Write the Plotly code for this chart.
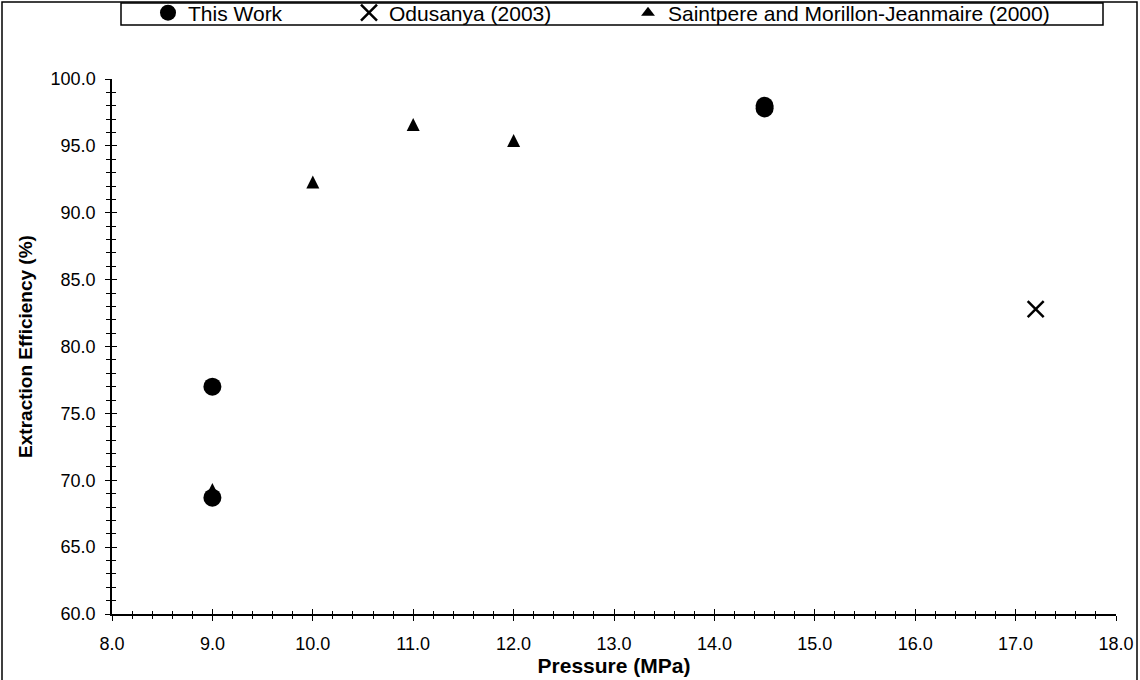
import plotly.graph_objects as go

# Extraction efficiency versus pressure
this_work_p = [9.0, 9.0, 14.5, 14.5]
this_work_eff = [77.0, 68.7, 98.0, 97.8]

odusanya_p = [17.2]
odusanya_eff = [82.8]

saintpere_p = [9.0, 10.0, 11.0, 12.0]
saintpere_eff = [69.3, 92.3, 96.6, 95.4]

x_range = [8.0, 18.0]
y_range = [60.0, 100.0]

FONT = "Liberation Sans, Arial, Helvetica, sans-serif"
W, H = 1140, 680
ML, MR, MT, MB = 112, 24, 79, 66
PW = W - ML - MR
PH = H - MT - MB


def px_to_paper_x(px):
    return (px - ML) / PW


def px_to_paper_y(py):
    return (H - MB - py) / PH


SAINTPERE = "Saintpere and Morillon-Jeanmaire (2000)"

fig = go.Figure()

# centred upright triangles: a down-arrow turned over and pulled back by half its height
fig.add_trace(go.Scatter(
    x=saintpere_p, y=saintpere_eff, mode="markers", name=SAINTPERE,
    marker=dict(symbol="arrow-down", angle=180, size=13, standoff=6.5,
                color="black", line=dict(width=0)),
    showlegend=False, legendgroup="sp",
))
# legend key for the triangle series
fig.add_trace(go.Scatter(
    x=[None], y=[None], mode="markers", name=SAINTPERE,
    marker=dict(symbol="triangle-up", size=12, color="black",
                line=dict(width=0)),
    legend="legend3", legendgroup="sp",
))
fig.add_trace(go.Scatter(
    x=this_work_p, y=this_work_eff, mode="markers", name="This Work",
    marker=dict(symbol="circle", size=18, color="black", line=dict(width=0)),
    legend="legend",
))
fig.add_trace(go.Scatter(
    x=odusanya_p, y=odusanya_eff, mode="markers", name="Odusanya (2003)",
    marker=dict(symbol="x-thin", size=16, color="black",
                line=dict(width=2.5, color="black")),
    legend="legend2", xaxis="x2", yaxis="y2",
))

tick_font = dict(family=FONT, size=18, color="black")

common_x = dict(range=x_range, dtick=1.0, tick0=8.0, tickformat=".1f",
                showgrid=False, zeroline=False)
common_y = dict(range=y_range, dtick=5.0, tick0=60.0, tickformat=".1f",
                showgrid=False, zeroline=False)

legend_common = dict(orientation="h", yanchor="middle", xanchor="left",
                     bgcolor="rgba(0,0,0,0)", borderwidth=0,
                     font=dict(family=FONT, size=21, color="black"),
                     itemwidth=30, itemsizing="trace")
leg_y = px_to_paper_y(13)

fig.update_layout(
    width=W, height=H,
    margin=dict(l=ML, r=MR, t=MT, b=MB, autoexpand=False),
    paper_bgcolor="white", plot_bgcolor="white",
    font=dict(family=FONT, color="black"),
    showlegend=True,
    xaxis=dict(
        **common_x,
        showline=True, linecolor="black", linewidth=1.5,
        ticks="outside", ticklen=5, tickwidth=1, tickcolor="black",
        minor=dict(dtick=0.2, ticks="outside", ticklen=3, tickwidth=1,
                   tickcolor="black"),
        tickfont=tick_font, ticklabelstandoff=8,
        title=dict(text="Pressure (MPa)", standoff=2,
                   font=dict(family=FONT, size=21, color="black",
                             weight="bold")),
    ),
    yaxis=dict(
        **common_y,
        showline=True, linecolor="black", linewidth=1.5,
        ticks="outside", ticklen=5, tickwidth=1, tickcolor="black",
        minor=dict(dtick=1.0, ticks="outside", ticklen=4, tickwidth=1,
                   tickcolor="black"),
        tickfont=tick_font, ticklabelstandoff=6,
        title=dict(text="Extraction Efficiency (%)", standoff=13,
                   font=dict(family=FONT, size=19, color="black",
                             weight="bold")),
    ),
    # mirrored inner halves so the ticks cross the axis lines
    xaxis2=dict(
        **common_x, overlaying="x", matches="x", side="bottom", anchor="y2",
        showline=False, showticklabels=False,
        ticks="inside", ticklen=5, tickwidth=1, tickcolor="black",
        minor=dict(dtick=0.2, ticks="inside", ticklen=3, tickwidth=1,
                   tickcolor="black"),
    ),
    yaxis2=dict(
        **common_y, overlaying="y", matches="y", side="left", anchor="x2",
        showline=False, showticklabels=False,
        ticks="inside", ticklen=5, tickwidth=1, tickcolor="black",
        minor=dict(dtick=1.0, ticks="inside", ticklen=4, tickwidth=1,
                   tickcolor="black"),
    ),
    legend=dict(**legend_common, x=px_to_paper_x(148), y=leg_y),
    legend2=dict(**legend_common, x=px_to_paper_x(349), y=leg_y),
    legend3=dict(**legend_common, x=px_to_paper_x(628), y=leg_y),
    shapes=[
        # outer chart frame
        dict(type="rect", xref="paper", yref="paper",
             x0=px_to_paper_x(2), x1=px_to_paper_x(1137),
             y0=px_to_paper_y(700), y1=px_to_paper_y(2),
             line=dict(color="black", width=1.5), layer="below"),
        # legend box
        dict(type="rect", xref="paper", yref="paper",
             x0=px_to_paper_x(121), x1=px_to_paper_x(1103),
             y0=px_to_paper_y(25), y1=px_to_paper_y(3),
             line=dict(color="black", width=1.5), layer="below"),
    ],
)

fig.write_html("out.html")
